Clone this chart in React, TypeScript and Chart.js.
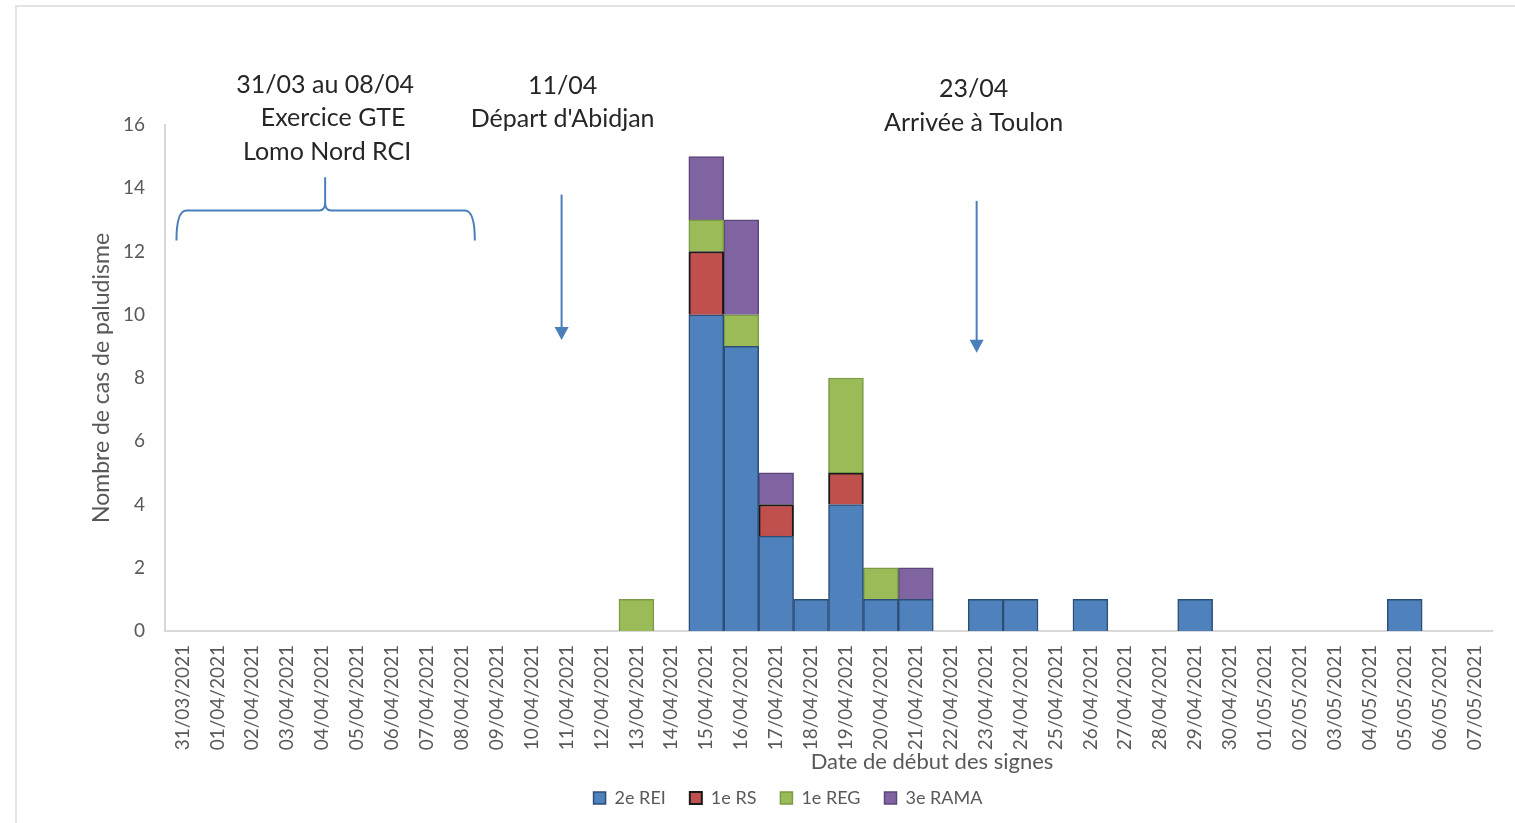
import React, { useEffect, useRef } from "react";
import { Chart, registerables } from "chart.js";

Chart.register(...registerables);

const categories: string[] = [
  "31/03/2021", "01/04/2021", "02/04/2021", "03/04/2021", "04/04/2021", "05/04/2021",
  "06/04/2021", "07/04/2021", "08/04/2021", "09/04/2021", "10/04/2021", "11/04/2021",
  "12/04/2021", "13/04/2021", "14/04/2021", "15/04/2021", "16/04/2021", "17/04/2021",
  "18/04/2021", "19/04/2021", "20/04/2021", "21/04/2021", "22/04/2021", "23/04/2021",
  "24/04/2021", "25/04/2021", "26/04/2021", "27/04/2021", "28/04/2021", "29/04/2021",
  "30/04/2021", "01/05/2021", "02/05/2021", "03/05/2021", "04/05/2021", "05/05/2021",
  "06/05/2021", "07/05/2021",
];

// 31/03 .. 07/05
const rei2e: number[] = [
  0, 0, 0, 0, 0, 0, 0, 0, 0, 0, 0, 0, 0, 0, 0, 10, 9, 3, 1, 4, 1, 1, 0, 1,
  1, 0, 1, 0, 0, 1, 0, 0, 0, 0, 0, 1, 0, 0,
];
const rs1e: number[] = [
  0, 0, 0, 0, 0, 0, 0, 0, 0, 0, 0, 0, 0, 0, 0, 2, 0, 1, 0, 1, 0, 0, 0, 0,
  0, 0, 0, 0, 0, 0, 0, 0, 0, 0, 0, 0, 0, 0,
];
const reg1e: number[] = [
  0, 0, 0, 0, 0, 0, 0, 0, 0, 0, 0, 0, 0, 1, 0, 1, 1, 0, 0, 3, 1, 0, 0, 0,
  0, 0, 0, 0, 0, 0, 0, 0, 0, 0, 0, 0, 0, 0,
];
const rama3e: number[] = [
  0, 0, 0, 0, 0, 0, 0, 0, 0, 0, 0, 0, 0, 0, 0, 2, 3, 1, 0, 0, 0, 1, 0, 0,
  0, 0, 0, 0, 0, 0, 0, 0, 0, 0, 0, 0, 0, 0,
];

const seriesNames: string[] = ["2e REI", "1e RS", "1e REG", "3e RAMA"];
const yTicks: number[] = [0, 2, 4, 6, 8, 10, 12, 14, 16];

const FONT = "Lato, 'Open Sans', sans-serif";
const GRAY = "#595959";
const ANNOT_BLUE = "#4a7ebb";

const annotationPlugin = {
  id: "annotations",
  afterDraw(chart: any) {
    const { ctx, chartArea, scales } = chart;
    const x = scales.x;
    const y = scales.y;
    ctx.save();

    // header texts
    ctx.fillStyle = "#262626";
    ctx.font = `25px ${FONT}`;
    ctx.textAlign = "center";
    ctx.textBaseline = "middle";
    const top = chartArea.top;
    const c1 = x.getPixelForValue(4) + 3;
    ctx.fillText("31/03 au 08/04", c1, top - 40);
    ctx.fillText("Exercice GTE", c1 + 8, top - 7);
    ctx.fillText("Lomo Nord RCI", c1 + 2, top + 27);
    const c2 = x.getPixelForValue(11) - 4;
    ctx.fillText("11/04", c2, top - 39);
    ctx.fillText("Départ d'Abidjan", c2, top - 6);
    const c3 = x.getPixelForValue(23) - 12;
    ctx.fillText("23/04", c3, top - 36);
    ctx.fillText("Arrivée à Toulon", c3, top - 2);

    // brace
    ctx.strokeStyle = ANNOT_BLUE;
    ctx.lineWidth = 2;
    const bl = x.getPixelForValue(0) - 6;
    const br = x.getPixelForValue(8) + 13;
    const bm = x.getPixelForValue(4) + 3;
    const yLine = y.getPixelForValue(13.3);
    const yEnd = y.getPixelForValue(12.35);
    const yTip = y.getPixelForValue(14.35);
    ctx.beginPath();
    ctx.moveTo(bl, yEnd);
    ctx.quadraticCurveTo(bl, yLine, bl + 10, yLine);
    ctx.lineTo(bm - 6, yLine);
    ctx.quadraticCurveTo(bm, yLine, bm, yLine - 8);
    ctx.lineTo(bm, yTip);
    ctx.moveTo(bm, yLine - 8);
    ctx.quadraticCurveTo(bm, yLine, bm + 6, yLine);
    ctx.lineTo(br - 10, yLine);
    ctx.quadraticCurveTo(br, yLine, br, yEnd);
    ctx.stroke();

    // arrows
    const arrow = (px: number, v0: number, v1: number) => {
      const y0 = y.getPixelForValue(v0);
      const y1 = y.getPixelForValue(v1);
      ctx.beginPath();
      ctx.moveTo(px, y0);
      ctx.lineTo(px, y1 - 10);
      ctx.stroke();
      ctx.fillStyle = ANNOT_BLUE;
      ctx.beginPath();
      ctx.moveTo(px - 7, y1 - 13);
      ctx.lineTo(px + 7, y1 - 13);
      ctx.lineTo(px, y1);
      ctx.closePath();
      ctx.fill();
    };
    arrow(x.getPixelForValue(11) - 5, 13.8, 9.2);
    arrow(x.getPixelForValue(23) - 9, 13.6, 8.8);

    // x axis title
    ctx.fillStyle = GRAY;
    ctx.font = `22px ${FONT}`;
    ctx.textAlign = "center";
    ctx.textBaseline = "middle";
    ctx.fillText("Date de début des signes", chartArea.left + (chartArea.right - chartArea.left) * 0.578, chartArea.bottom + 131);

    ctx.restore();
  },
};

export default function App() {
  const canvasRef = useRef<HTMLCanvasElement | null>(null);

  useEffect(() => {
    document.body.style.margin = "0";
    const canvas = canvasRef.current;
    if (!canvas) return;
    const mk = (label: string, data: number[], bg: string, border: string, bw: number) => ({
      label,
      data,
      backgroundColor: bg,
      borderColor: border,
      borderWidth: bw,
      barPercentage: 1,
      categoryPercentage: 1,
    });
    const chart = new Chart(canvas, {
      type: "bar",
      data: {
        labels: categories,
        datasets: [
          mk(seriesNames[0], rei2e, "#4f81bd", "#2c4d75", 1.5),
          mk(seriesNames[1], rs1e, "#c0504d", "#1a1a1a", 2),
          mk(seriesNames[2], reg1e, "#9bbb59", "#7a9a44", 1.5),
          mk(seriesNames[3], rama3e, "#8064a2", "#5c4778", 1.5),
        ],
      },
      plugins: [annotationPlugin],
      options: {
        animation: false,
        responsive: false,
        maintainAspectRatio: false,
        layout: { padding: { left: 84, right: 23, top: 125, bottom: 6 } },
        plugins: {
          tooltip: { enabled: false },
          legend: {
            position: "bottom",
            labels: {
              color: GRAY,
              font: { family: FONT, size: 18 },
              boxWidth: 12,
              boxHeight: 12,
              padding: 24,
            },
          },
        },
        scales: {
          x: {
            stacked: true,
            grid: { display: false, drawTicks: false },
            border: { display: true, color: "#d9d9d9", width: 2 },
            ticks: {
              color: GRAY,
              font: { family: FONT, size: 19 },
              minRotation: 90,
              maxRotation: 90,
              autoSkip: false,
              padding: 14,
            },
            afterFit: (scale: any) => {
              scale.height = 134;
            },
          },
          y: {
            stacked: true,
            min: 0,
            max: 16,
            afterBuildTicks: (scale: any) => {
              scale.ticks = yTicks.map((v) => ({ value: v }));
            },
            grid: { display: false, drawTicks: false },
            border: { display: true, color: "#d9d9d9", width: 2 },
            ticks: {
              color: GRAY,
              font: { family: FONT, size: 19 },
              padding: 20,
            },
            title: {
              display: true,
              text: "Nombre de cas de paludisme",
              color: GRAY,
              font: { family: FONT, size: 23 },
            },
            afterFit: (scale: any) => {
              scale.width = 81;
            },
          },
        },
      },
    } as any);
    return () => chart.destroy();
  }, []);

  return (
    <div style={{ position: "relative", width: 1515, height: 823, background: "#fff", overflow: "hidden" }}>
      <div
        style={{
          position: "absolute",
          left: 15,
          top: 5,
          width: 1515,
          height: 830,
          borderTop: "2px solid #e3e3e3",
          borderLeft: "2px solid #e3e3e3",
        }}
      />
      <canvas ref={canvasRef} width={1515} height={823} style={{ position: "absolute", left: 0, top: 0, width: 1515, height: 823 }} />
    </div>
  );
}
